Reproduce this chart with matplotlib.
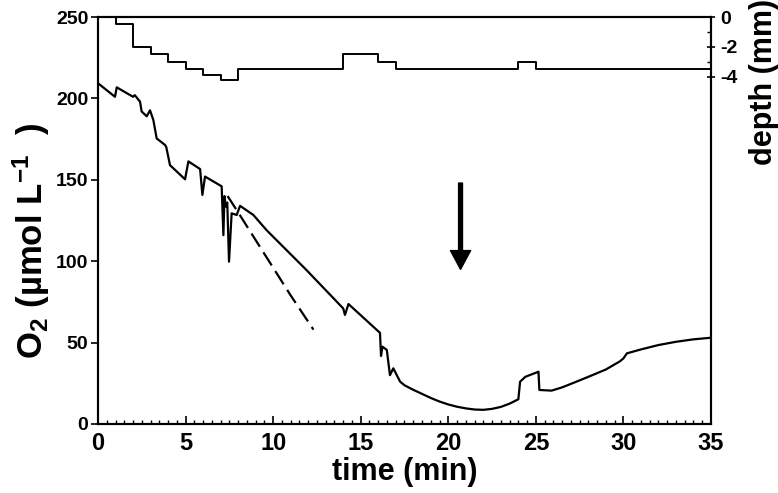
import matplotlib
matplotlib.use("Agg")
import matplotlib.pyplot as plt
import numpy as np

plt.rcParams['font.family'] = ['Liberation Sans', 'DejaVu Sans']
plt.rcParams['font.weight'] = 'bold'
plt.rcParams['mathtext.fontset'] = 'custom'
plt.rcParams['mathtext.rm'] = 'Liberation Sans:bold'
plt.rcParams['mathtext.bf'] = 'Liberation Sans:bold'
plt.rcParams['mathtext.default'] = 'bf'
plt.rcParams['axes.unicode_minus'] = False

# O2 trace (min, umol/L)
t_o2 = [0.0, 0.97, 1.07, 2.0, 2.1, 2.4, 2.49, 2.78, 2.97, 3.16, 3.35, 3.83, 3.9,
        4.11, 4.97, 5.16, 5.83, 5.96, 6.11, 7.06, 7.16, 7.22, 7.3, 7.38, 7.48,
        7.63, 7.92, 8.11, 8.87, 9.63, 11.9, 14.0, 14.1, 14.3, 16.1, 16.16,
        16.24, 16.49, 16.67, 16.86, 17.25, 17.5, 18.0, 18.5, 19.0, 19.5, 20.0,
        20.5, 21.0, 21.5, 22.0, 22.5, 23.0, 23.5, 24.0,
        24.1, 24.4, 25.15, 25.2, 25.9, 26.5, 27.2, 28.0, 29.0, 29.8, 30.0,
        30.2, 31.0, 32.0, 33.0, 34.0, 35.0]
o2 = [209.3, 201, 206.8, 201, 202, 198, 192, 189, 192.7, 186.7, 175.4, 171.4, 170,
      159, 150.3, 161.3, 156.6, 140.7, 152, 146, 116, 140, 133.5, 136, 99.7,
      129.4, 128.4, 134, 128.4, 119, 94.6, 71, 67, 73.7, 56, 41.8,
      47.5, 45.5, 30, 34.2, 26, 23.8, 21, 18.5, 16, 13.8, 12,
      10.6, 9.6, 8.9, 8.7, 9.3, 10.5, 12.5, 15.2,
      26, 29, 32.1, 20.9, 20.5, 22.5, 25.5, 29, 33.5, 38.5, 40.3,
      43.4, 45.8, 48.5, 50.5, 52, 53]

# extrapolated slope (dashed)
t_fit = [7.4, 8.0, 9.0, 10.0, 11.0, 12.3]
o2_fit = [140, 130, 113, 96, 79, 58]

# electrode depth (mm), step changes
t_depth = [0, 1, 2, 3, 4, 5, 6, 7, 8, 14, 16, 17, 24, 25, 35]
depth = [0, -0.5, -2, -2.5, -3, -3.5, -3.9, -4.25, -3.5, -2.5, -3.0, -3.5, -3.0, -3.5, -3.5]

fig = plt.figure(figsize=(7.78, 4.93), dpi=100)
ax = fig.add_axes([98/778, 69/493, 613/778, 407/493])

ax.plot(t_o2, o2, color='black', lw=1.6)
ax.plot(t_fit, o2_fit, color='black', lw=1.6, dashes=(7, 3))

ax.set_xlim(0, 35)
ax.set_ylim(0, 250)
ax.set_xticks(np.arange(0, 36, 5))
ax.set_xticks(np.arange(0, 35.1, 0.5), minor=True)
ax.set_yticks(np.arange(0, 251, 50))
ax.tick_params(axis='x', which='major', direction='in', length=6, width=1.2,
               labelsize=17, pad=6)
ax.tick_params(axis='x', which='minor', direction='in', length=3, width=1)
ax.tick_params(axis='y', which='major', direction='out', length=5, width=1.2,
               labelsize=14, pad=2)
for s in ax.spines.values():
    s.set_linewidth(1.5)

# axis titles placed in figure pixels
fig.text(405/778, 1 - 472/493, 'time (min)', fontsize=22, fontweight='bold',
         ha='center', va='center')
fig.text(31/778, 1 - 241/493, r'O$_2$ (µmol L$^{-1}$  )', fontsize=25,
         fontweight='bold', rotation=90, ha='center', va='center')

# arrow marking the minimum
ax.annotate('', xy=(20.7, 95), xytext=(20.7, 148),
            arrowprops=dict(width=2.8, headwidth=14.5, headlength=13.5,
                            color='black', shrink=0))

ax2 = ax.twinx()
ax2.step(t_depth, depth, where='post', color='black', lw=1.4)
ax2.set_ylim(-27.3, 0)
ax2.set_yticks([0, -2, -4])
ax2.set_yticks([-1, -3], minor=True)
ax2.tick_params(axis='y', which='major', direction='inout', length=6, width=1.2,
                labelsize=14, pad=4)
ax2.tick_params(axis='y', which='minor', direction='in', length=3, width=1)
for s in ax2.spines.values():
    s.set_linewidth(1.5)

fig.text(764/778, 1 - 82/493, 'depth (mm)', rotation=90, fontsize=22,
         fontweight='bold', ha='center', va='center')

fig.savefig('out.png', dpi=100)
